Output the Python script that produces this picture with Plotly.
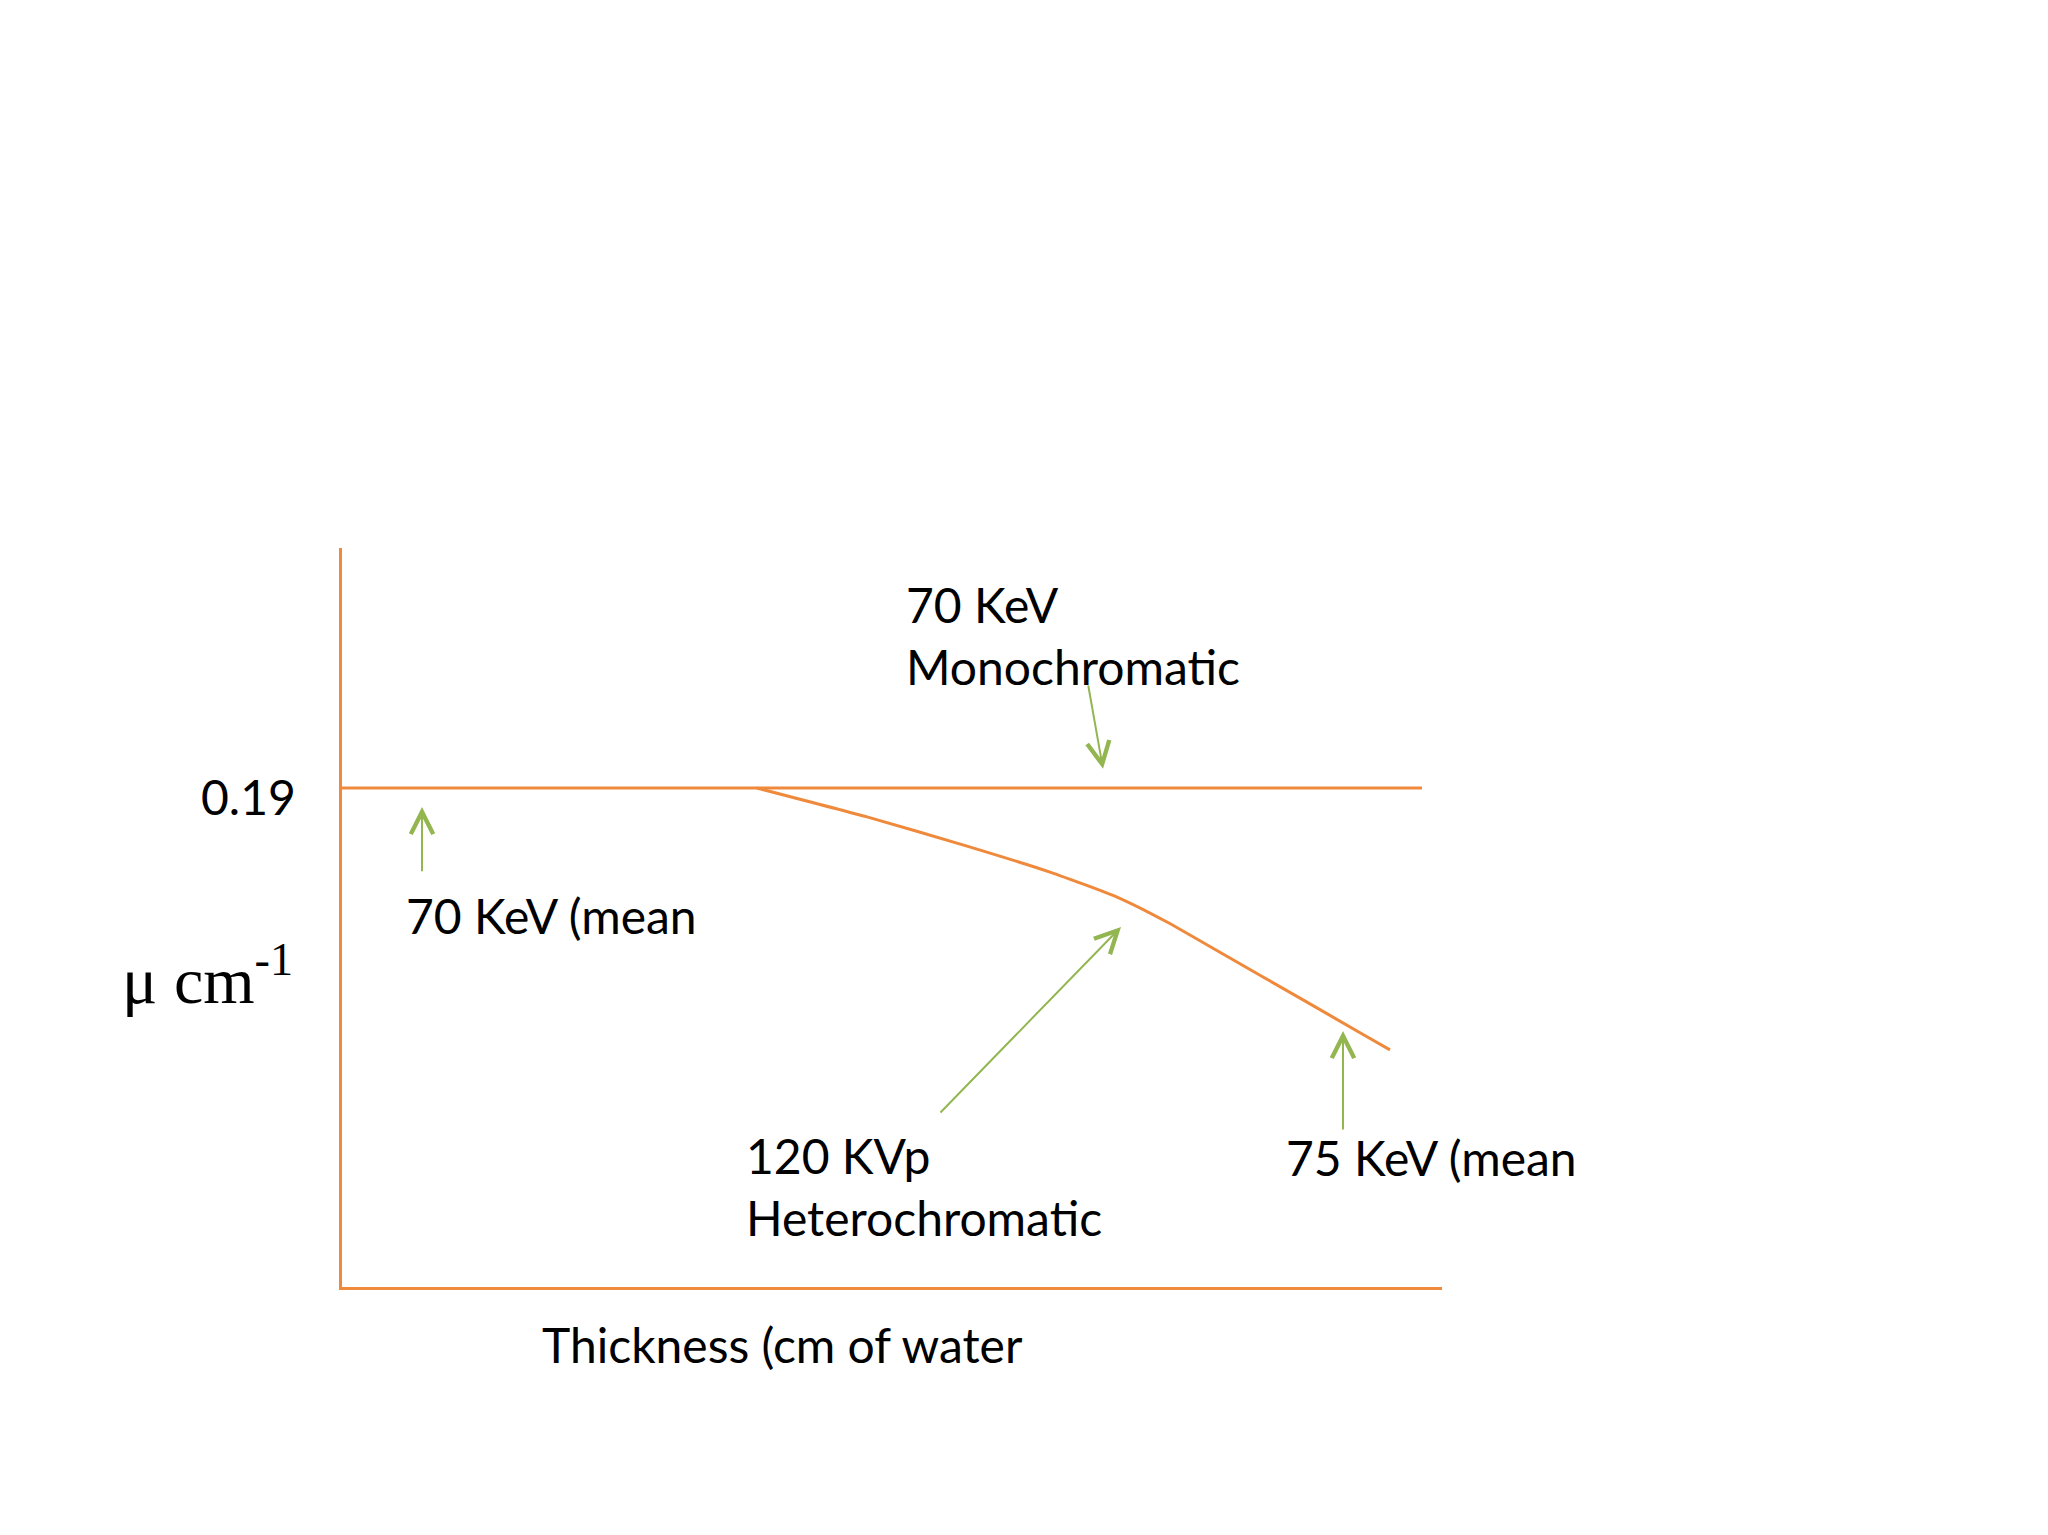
"""Attenuation coefficient vs water thickness: mono vs heterochromatic beam."""

import plotly.graph_objects as go

ORANGE = "#EF8A3C"
GREEN = "#93B651"
TEXT_FONT = "Lato, 'Open Sans', sans-serif"

# page offset of the plotly div (body margin) and figure size
PAD = 8
W, H = 2048 - PAD, 1535 - PAD

# thickness in arbitrary units, mu in cm^-1
MONO_X = [0.0, 10.8]
MONO_Y = [0.19, 0.19]

HETERO_X = [4.15, 5.25, 6.25, 7.08, 7.75, 8.25, 8.91, 9.58, 10.25, 10.48]
HETERO_Y = [0.190, 0.179, 0.1679, 0.158, 0.1485, 0.139, 0.1246, 0.110, 0.0953, 0.0903]

Y_TICK = 0.19
Y_TICK_LABEL = "0.19"

# arrows: (tip x, tip y, tail x, tail y)
ARROWS = [
    (0.80, 0.1828, 0.80, 0.1577),   # 70 KeV (mean
    (7.61, 0.1973, 7.46, 0.2296),   # 70 KeV Monochromatic
    (7.79, 0.1371, 5.97, 0.0659),   # 120 KVp Heterochromatic
    (10.01, 0.0975, 10.01, 0.0594), # 75 KeV (mean
]

# labels: (text, x, y)
LABELS = [
    ("70 KeV<br>Monochromatic", 5.62, 0.2479),
    ("70 KeV (mean", 0.62, 0.1413),
    ("120 KVp<br>Heterochromatic", 4.02, 0.0381),
    ("75 KeV (mean", 9.42, 0.0495),
]

X_TITLE = "Thickness (cm of water"
Y_TITLE = "μ cm<sup>-1</sup>"

fig = go.Figure()

fig.add_trace(go.Scatter(
    x=MONO_X, y=MONO_Y,
    mode="lines",
    line=dict(color=ORANGE, width=3),
    showlegend=False,
    hoverinfo="skip",
))
fig.add_trace(go.Scatter(
    x=HETERO_X, y=HETERO_Y,
    mode="lines",
    line=dict(color=ORANGE, width=3, shape="spline", smoothing=0.5),
    showlegend=False,
    hoverinfo="skip",
))

annotations = []
for tx, ty, ax, ay in ARROWS:
    annotations.append(dict(
        x=tx, y=ty, ax=ax, ay=ay,
        xref="x", yref="y", axref="x", ayref="y",
        text="", showarrow=True,
        arrowhead=5, arrowsize=2.2, arrowwidth=2,
        arrowcolor=GREEN,
    ))

for text, x, y in LABELS:
    annotations.append(dict(
        x=x, y=y, xref="x", yref="y",
        text=text, showarrow=False,
        xanchor="left", yanchor="middle", align="left",
        font=dict(family=TEXT_FONT, size=48, color="#000000"),
    ))

annotations.append(dict(
    x=(298 - PAD) / W, y=Y_TICK, xref="paper", yref="y", yshift=-8,
    text=Y_TICK_LABEL, showarrow=False,
    xanchor="right", yanchor="middle",
    font=dict(family=TEXT_FONT, size=48, color="#000000"),
))
annotations.append(dict(
    x=(540 - PAD) / W, y=1 - (1344 - PAD) / H, xref="paper", yref="paper",
    text=X_TITLE, showarrow=False,
    xanchor="left", yanchor="middle",
    font=dict(family=TEXT_FONT, size=48, color="#000000"),
))
annotations.append(dict(
    x=(120 - PAD) / W, y=1 - (975 - PAD) / H, xref="paper", yref="paper",
    text=Y_TITLE, showarrow=False,
    xanchor="left", yanchor="middle",
    font=dict(family="'Liberation Serif', 'Times New Roman', serif", size=66, color="#000000"),
))

fig.update_xaxes(
    domain=[(342 - PAD) / W, (1442 - PAD) / W],
    range=[0, 11],
    showline=True, linecolor=ORANGE, linewidth=3,
    showgrid=False, zeroline=False, showticklabels=False, ticks="",
)
fig.update_yaxes(
    domain=[1 - (1287 - PAD) / H, 1 - (548 - PAD) / H],
    range=[0, 0.2814],
    showline=True, linecolor=ORANGE, linewidth=3,
    showgrid=False, zeroline=False, showticklabels=False, ticks="",
)
fig.update_layout(
    width=W, height=H,
    margin=dict(l=0, r=0, t=0, b=0),
    paper_bgcolor="#FFFFFF",
    plot_bgcolor="#FFFFFF",
    annotations=annotations,
)

fig.write_html("out.html")
